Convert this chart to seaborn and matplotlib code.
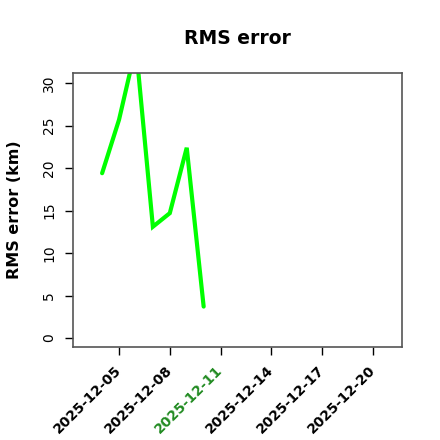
import matplotlib
matplotlib.use("Agg")
import matplotlib.pyplot as plt
import matplotlib.dates as mdates
import seaborn as sns
import pandas as pd

dates = ["2025-12-04", "2025-12-05", "2025-12-06", "2025-12-07",
         "2025-12-08", "2025-12-09", "2025-12-10"]
rms_km = [19.4, 25.7, 34.3, 13.1, 14.7, 22.4, 3.7]
tick_dates = ["2025-12-05", "2025-12-08", "2025-12-11",
              "2025-12-14", "2025-12-17", "2025-12-20"]
highlight_date = "2025-12-11"
y_ticks = [0, 5, 10, 15, 20, 25, 30]

sns.set_style("white", rc={"text.color": "black", "axes.labelcolor": "black",
                           "xtick.color": "black", "ytick.color": "black"})
plt.rcParams['font.family'] = ['DejaVu Sans']

df = pd.DataFrame({"date": pd.to_datetime(dates), "rms": rms_km})

fig = plt.figure(figsize=(4.4, 4.4), dpi=100)
ax = fig.add_axes([73/440, 1-347/440, (402-73)/440, (347-73)/440])

sns.lineplot(data=df, x="date", y="rms", ax=ax, color="#00FF00",
             linewidth=3, solid_joinstyle="miter", solid_capstyle="round")

x0 = mdates.date2num(pd.Timestamp("2025-12-03"))
x1 = mdates.date2num(pd.Timestamp("2025-12-21"))
ax.set_xlim(x0 - 0.72, x1 + 0.72)
ax.set_ylim(-1.06, 31.2)

tpos = [mdates.date2num(pd.Timestamp(d)) for d in tick_dates]
ax.set_xticks(tpos)
ax.set_xticklabels(tick_dates, rotation=45, ha="right", va="center",
                   rotation_mode="anchor", fontweight="bold", fontsize=10)
for lab, d in zip(ax.get_xticklabels(), tick_dates):
    lab.set_color("#228B22" if d == highlight_date else "black")
ax.set_yticks(y_ticks)
ax.set_yticklabels([str(v) for v in y_ticks], rotation=90, va="center",
                   fontsize=10, color="black")

ax.tick_params(axis="both", direction="out", length=6, width=1, color="black",
               bottom=True, left=True)
ax.tick_params(axis="x", pad=9)
ax.tick_params(axis="y", pad=6)
for s in ax.spines.values():
    s.set_color("#555555")
    s.set_linewidth(1.2)
    s.set_visible(True)

ax.set_xlabel("")
ax.set_ylabel("RMS error (km)", fontweight="bold", fontsize=11.5, labelpad=15,
              color="black")
ax.set_title("RMS error", fontweight="bold", fontsize=13.5, pad=21, color="black")

fig.savefig("out.png", dpi=100)
